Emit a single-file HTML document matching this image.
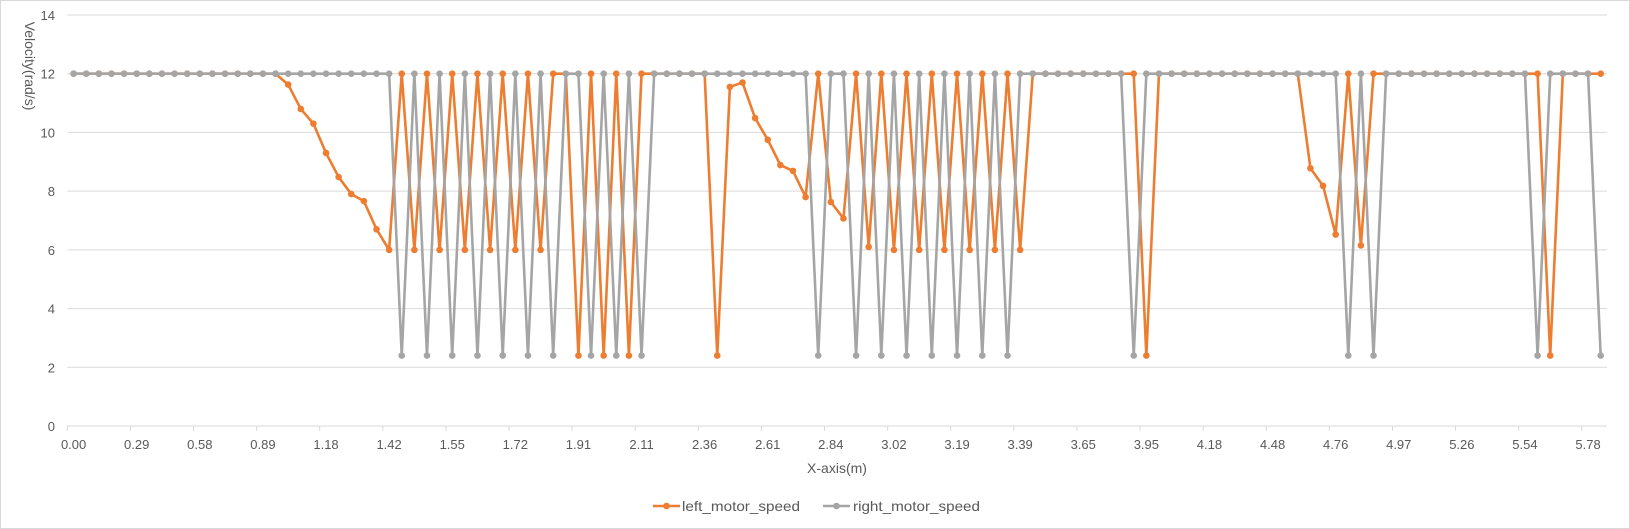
<!DOCTYPE html>
<html><head><meta charset="utf-8"><style>
html,body{margin:0;padding:0;background:#fff;}
svg{display:block;font-family:"Liberation Sans",sans-serif;}
</style></head><body>
<svg id="chart" width="1630" height="529" viewBox="0 0 1630 529" xmlns="http://www.w3.org/2000/svg">
<rect x="0.5" y="0.5" width="1629" height="528" fill="#fff" stroke="#d9d9d9"/>
<g id="grid"></g>
<g id="xaxis"></g>
<g id="yaxis"></g>
<g id="series"></g>
<text transform="translate(25,66) rotate(90)" text-anchor="middle" font-size="14" fill="#595959">Velocity(rad/s)</text>
<text x="837" y="473" text-anchor="middle" font-size="14" fill="#595959">X-axis(m)</text>
<g>
  <g>
    <line x1="653" y1="506" x2="680" y2="506" stroke="#ED7D31" stroke-width="2.5"/>
    <circle cx="666.5" cy="506" r="3.3" fill="#ED7D31"/>
    <text x="682" y="511" font-size="14" fill="#595959" textLength="118" lengthAdjust="spacingAndGlyphs">left_motor_speed</text>
  </g>
  <g>
    <line x1="823" y1="506" x2="850" y2="506" stroke="#A5A5A5" stroke-width="2.5"/>
    <circle cx="836.5" cy="506" r="3.3" fill="#A5A5A5"/>
    <text x="853" y="511" font-size="14" fill="#595959" textLength="127" lengthAdjust="spacingAndGlyphs">right_motor_speed</text>
  </g>
</g>
</svg>
<script>
const xLabels = ["0.00","0.29","0.58","0.89","1.18","1.42","1.55","1.72","1.91","2.11","2.36","2.61","2.84","3.02","3.19","3.39","3.65","3.95","4.18","4.48","4.76","4.97","5.26","5.54","5.78"];
const yTicks = [0,2,4,6,8,10,12,14];
const leftSpeed = [
12,12,12,12,12,12,12,12,12,12,12,12,12,12,12,12,12,
11.63,10.8,10.3,9.3,8.48,7.9,7.66,6.7,6.0,
12,6,12,6,12,6,12,6,12,6,12,6,12,12,2.4,12,2.4,12,2.4,12,
12,12,12,12,12,
2.4,
11.55,11.7,10.49,9.75,8.89,8.69,7.8,12,7.63,7.07,12,6.1,12,6,12,6,12,6,12,6,12,6,12,6,12,
12,12,12,12,12,12,12,12,
2.4,
12,12,12,12,12,12,12,12,12,12,12,12,
8.78,8.18,6.52,12,6.15,
12,12,12,12,12,12,12,12,12,12,12,12,12,12,
2.4,
12,12,12,12];
const rightSpeed = [
12,12,12,12,12,12,12,12,12,12,12,12,12,12,12,12,12,12,12,12,12,12,12,12,12,12,
2.4,12,2.4,12,2.4,12,2.4,12,2.4,12,2.4,12,2.4,12,12,2.4,12,2.4,12,2.4,
12,12,12,12,12,12,12,12,12,12,12,12,12,
2.4,12,12,2.4,12,2.4,12,2.4,12,2.4,12,2.4,12,2.4,12,2.4,
12,12,12,12,12,12,12,12,12,
2.4,
12,12,12,12,12,12,12,12,12,12,12,12,12,12,12,12,
2.4,12,2.4,
12,12,12,12,12,12,12,12,12,12,12,12,
2.4,
12,12,12,12,
2.4];

const NS = "http://www.w3.org/2000/svg";
const plotL = 67.3, plotR = 1607, plotT = 15, plotB = 426;
const N = Math.max(leftSpeed.length, rightSpeed.length);
const step = (plotR - plotL) / N;
const yMax = 14;
function xPos(i){ return plotL + (i + 0.5) * step; }
function yPos(v){ return plotB - v / yMax * (plotB - plotT); }
function mk(tag, attrs, parent){ const e = document.createElementNS(NS, tag); for (const k in attrs) e.setAttribute(k, attrs[k]); parent.appendChild(e); return e; }

const grid = document.getElementById('grid');
const yaxis = document.getElementById('yaxis');
yTicks.forEach(v => {
  if (v > 0) {
    const g = mk('line', {x1: plotL, x2: plotR, y1: yPos(v), y2: yPos(v), stroke: '#d9d9d9', 'stroke-width': 1}, grid);
    
    
  }
  const t = mk('text', {x: 55, y: yPos(v) + 5, 'text-anchor': 'end', 'font-size': 13, fill: '#595959'}, yaxis);
  t.textContent = v;
  
  
});

const xaxis = document.getElementById('xaxis');
const axl = mk('line', {x1: plotL, x2: plotR, y1: plotB, y2: plotB, stroke: '#d9d9d9', 'stroke-width': 1}, xaxis);


xLabels.forEach((lab, k) => {
  const i = k * 5;
  const tx = plotL + i * step;
  const tk = mk('line', {x1: tx, x2: tx, y1: plotB, y2: plotB + 5, stroke: '#d9d9d9', 'stroke-width': 1}, xaxis);
  
  
  const t = mk('text', {x: xPos(i), y: plotB + 23, 'text-anchor': 'middle', 'font-size': 13, fill: '#595959'}, xaxis);
  t.textContent = lab;
  
  
});

const series = document.getElementById('series');
function drawSeries(vals, color, name){
  const g = mk('g', {}, series);
  
  
  const pts = vals.map((v, i) => xPos(i).toFixed(2) + ',' + yPos(v).toFixed(2)).join(' ');
  const pl = mk('polyline', {points: pts, fill: 'none', stroke: color, 'stroke-width': 2.6, 'stroke-linejoin': 'round'}, g);
  
  
  vals.forEach((v, i) => {
    const c = mk('circle', {cx: xPos(i), cy: yPos(v), r: 3.3, fill: color}, g);
    
    
  });
}
drawSeries(leftSpeed, '#ED7D31', 'left-motor-speed');
drawSeries(rightSpeed, '#A5A5A5', 'right-motor-speed');
</script>
</body></html>
